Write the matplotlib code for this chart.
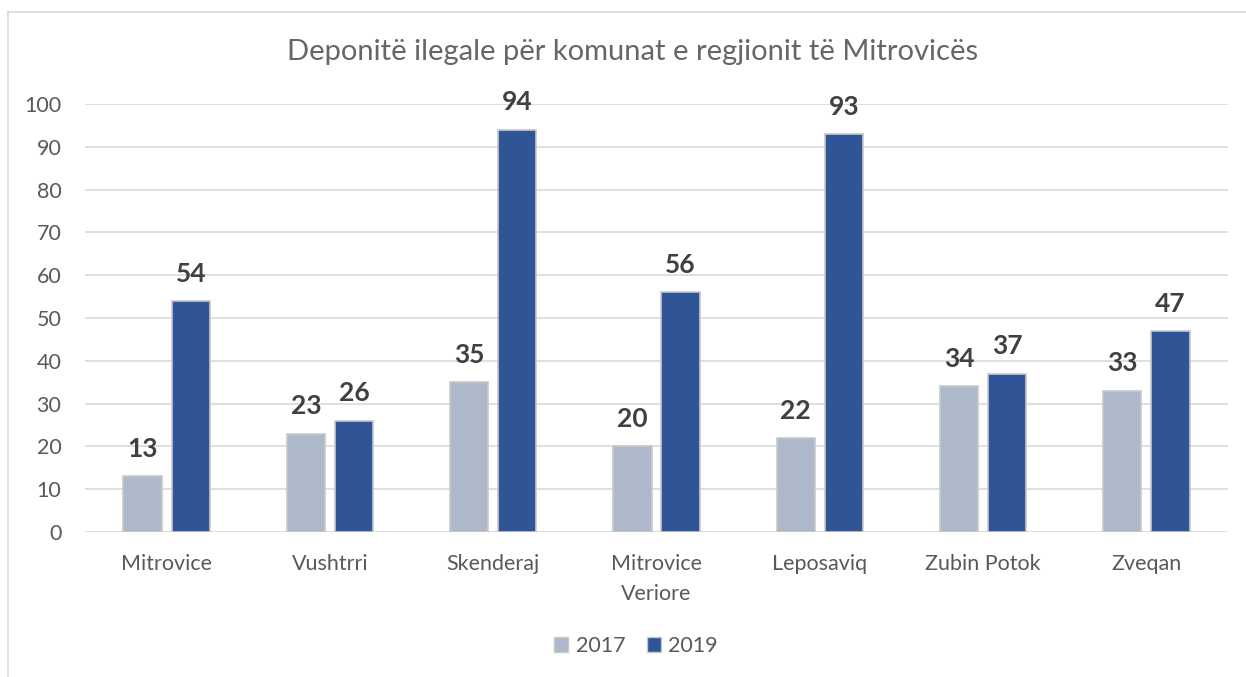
import matplotlib
matplotlib.use("Agg")
import matplotlib.pyplot as plt
from matplotlib.lines import Line2D
import numpy as np

categories = ["Mitrovice", "Vushtrri", "Skenderaj", "Mitrovice\nVeriore", "Leposaviq", "Zubin Potok", "Zveqan"]
vals_2017 = [13, 23, 35, 20, 22, 34, 33]
vals_2019 = [54, 26, 94, 56, 93, 37, 47]
series_names = ["2017", "2019"]
yticks = list(range(0, 101, 10))

plt.rcParams['font.family'] = ['Lato', 'DejaVu Sans']

fig = plt.figure(figsize=(12.46, 6.77), dpi=100)
ax = fig.add_axes([85/1246, 1-532/677, (1228-85)/1246, (532-104)/677])

x = np.arange(len(categories))
w = 0.235
gap = 0.06
c17 = "#ADB9CA"
c19 = "#2F5597"
b1 = ax.bar(x - (w+gap)/2, vals_2017, w, color=c17, edgecolor="#C8C8C8", linewidth=1.2, label=series_names[0], zorder=3)
b2 = ax.bar(x + (w+gap)/2, vals_2019, w, color=c19, edgecolor="#C8C8C8", linewidth=1.2, label=series_names[1], zorder=3)

for bars, vals in ((b1, vals_2017), (b2, vals_2019)):
    for r, v in zip(bars, vals):
        ax.annotate(str(v), (r.get_x() + r.get_width()/2, v), xytext=(0, 11), textcoords="offset points",
                    ha="center", va="bottom", fontsize=19, fontweight="bold", color="#404040")

ax.set_xlim(-0.5, len(categories) - 0.5)
ax.set_ylim(0, 100)
ax.set_yticks(yticks)
ax.set_xticks(x)
ax.set_xticklabels(categories, fontsize=15.5, color="#595959", linespacing=1.6)
ax.tick_params(axis='y', labelsize=15.5, labelcolor="#595959", length=0, pad=17)
ax.tick_params(axis='x', length=0, pad=16)
ax.grid(axis='y', color="#D9D9D9", linewidth=1.2, zorder=0)
for s in ax.spines.values():
    s.set_visible(False)

fig.text(633/1246, 1-52/677, "Deponitë ilegale për komunat e regjionit të Mitrovicës", ha="center", va="center",
         fontsize=21, color="#666666")

handles = [plt.Rectangle((0, 0), 1, 1, facecolor=c17, edgecolor="#C8C8C8"),
           plt.Rectangle((0, 0), 1, 1, facecolor=c19, edgecolor="#C8C8C8")]
fig.legend(handles, series_names, loc="center", bbox_to_anchor=(636/1246, 1-646/677), ncol=2, frameon=False,
           fontsize=15.5, labelcolor="#595959", handlelength=0.65, handleheight=0.65, handletextpad=0.35, columnspacing=1.0)

fig.add_artist(Line2D([8/1246, 8/1246], [0, 1-12/677], color="#D9D9D9", linewidth=1.2, transform=fig.transFigure))
fig.add_artist(Line2D([8/1246, 1], [1-12/677, 1-12/677], color="#D9D9D9", linewidth=1.2, transform=fig.transFigure))

fig.savefig("out.png", dpi=100, facecolor="white")
